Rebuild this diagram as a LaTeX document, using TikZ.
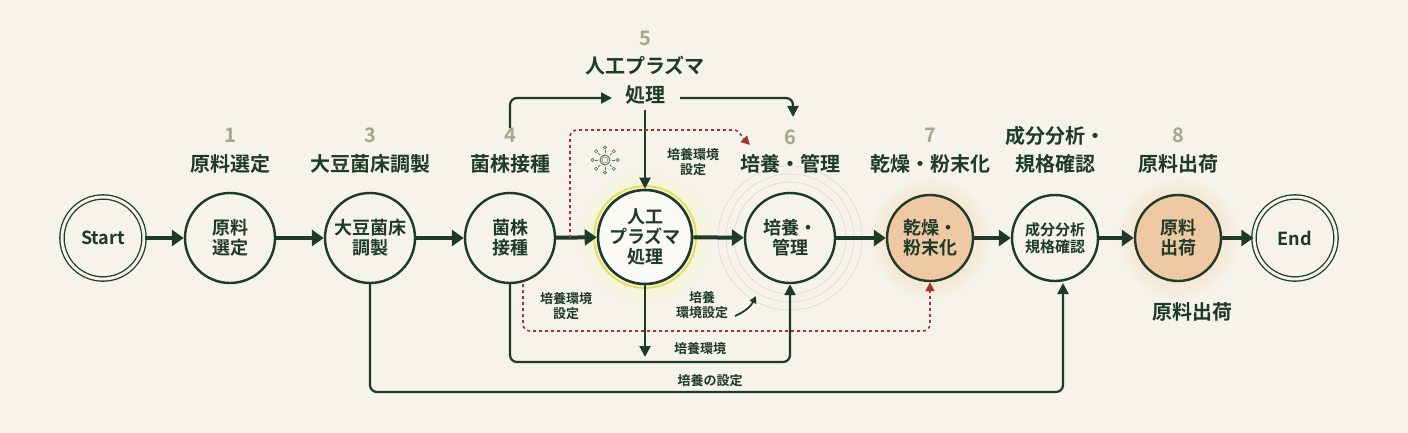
\documentclass[tikz,border=0pt]{standalone}
\usepackage{fontspec}
\setmainfont{Noto Sans CJK JP}[BoldFont={* Bold}]
\usetikzlibrary{arrows.meta,shadings,calc}
\definecolor{bg}{HTML}{F5F3EA}
\definecolor{dg}{HTML}{1E3A29}
\definecolor{numc}{HTML}{A5A78E}
\definecolor{rd}{HTML}{A33434}
\definecolor{org}{HTML}{EFC9A4}
\begin{document}
\begin{tikzpicture}[x=1pt,y=-1pt,
  st/.style={circle,draw=dg,line width=2.4pt,fill=bg,minimum size=90pt,inner sep=0pt,align=center,font=\bfseries\fontsize{18}{20}\selectfont,text=dg},
  term/.style={st,double=bg,double distance=3pt,line width=1.3pt,minimum size=82pt},
  ttl/.style={font=\bfseries\fontsize{20}{23}\selectfont,text=dg,align=center},
  num/.style={font=\bfseries\fontsize{20}{23}\selectfont,text=numc},
  lab/.style={font=\bfseries\fontsize{13}{15}\selectfont,text=dg,align=center},
  flow/.style={draw=dg,line width=4pt,-{Triangle[length=12pt,width=16pt]}},
  ln/.style={draw=dg,line width=2.2pt,rounded corners=7pt,-{Triangle[length=11pt,width=11pt]}},
  rl/.style={draw=rd,line width=1.6pt,dashed,rounded corners=7pt,-{Triangle[length=9pt,width=9pt]}}]
\fill[bg] (0,0) rectangle (1408,433);
\useasboundingbox (0,0) rectangle (1408,433);
% glows
\shade[inner color=yellow!35!bg,outer color=bg] (645,237) circle (68);
\shade[inner color=orange!35!bg,outer color=bg] (930,238) circle (62);
\shade[inner color=orange!35!bg,outer color=bg] (1178,238) circle (62);
\foreach \r in {56,64,72} \draw[gray!30,line width=0.6pt] (790,238) circle (\r);
% nodes
\node[term] (s) at (103,238) {Start};
\node[st] (n1) at (230,238) {原料\\選定};
\node[st] (n3) at (370,238) {大豆菌床\\調製};
\node[st] (n4) at (510,238) {菌株\\接種};
\node[st,minimum size=94pt,fill=white!60!bg,line width=2.6pt] (n5) at (645,237) {人工\\プラズマ\\処理};
\draw[yellow!60!olive!60,line width=1.8pt] (645,237) circle (51);
\node[st] (n6) at (790,238) {培養・\\管理};
\node[st,minimum size=86pt,fill=org] (n7) at (930,238) {乾燥・\\粉末化};
\node[st,minimum size=86pt,font=\bfseries\fontsize{15}{17}\selectfont] (n8) at (1055,238) {成分分析\\規格確認};
\node[st,minimum size=86pt,fill=org] (n9) at (1178,238) {原料\\出荷};
\node[term] (e) at (1295,238) {End};
% titles
\node[num] (t1n) at (230,135) {1};
\node[ttl] (t1) at (230,164) {原料選定};
\node[num] (t3n) at (370,135) {3};
\node[ttl] (t3) at (370,164) {大豆菌床調製};
\node[num] (t4n) at (510,135) {4};
\node[ttl] (t4) at (510,164) {菌株接種};
\node[num] (t5n) at (645,38) {5};
\node[ttl] (t5) at (645,66) {人工プラズマ};
\node[ttl] (t5b) at (645,95) {処理};
\node[num] (t6n) at (790,137) {6};
\node[ttl] (t6) at (790,164) {培養・管理};
\node[num] (t7n) at (930,135) {7};
\node[ttl] (t7) at (930,164) {乾燥・粉末化};
\node[ttl] (t8a) at (1055,136) {成分分析・};
\node[ttl] (t8) at (1055,164) {規格確認};
\node[num] (t9n) at (1178,135) {8};
\node[ttl] (t9) at (1178,164) {原料出荷};
\node[ttl] (t9b) at (1192,312) {原料出荷};
% main flow
\draw[flow] (s) -- (n1);
\draw[flow] (n1) -- (n3);
\draw[flow] (n3) -- (n4);
\draw[flow] (n4) -- (n5);
\draw[flow] (n5) -- (n6);
\draw[flow] (n6) -- (n7);
\draw[flow] (n7) -- (n8);
\draw[flow] (n8) -- (n9);
\draw[flow] (n9) -- (e);
% top loop
\coordinate (a1) at (510,128);
\coordinate (a2) at (612,98);
\draw[ln] (a1) -- (510,98) -- (a2);
\coordinate (a3) at (680,98);
\coordinate (a4) at (793,117);
\draw[ln] (a3) -- (793,98) -- (a4);
\coordinate (a5) at (645,110);
\draw[ln] (a5) -- (n5.north);
% red dashed top
\coordinate (r1) at (570,238);
\coordinate (r2) at (750,145);
\draw[rl] (r1) -- (570,130) -- (728,130) to[out=0,in=135] (r2);
% red dashed bottom
\coordinate (r3) at (523,284);
\draw[rl] (r3) -- (523,331) -- (930,331) -- (n7.south);
% down from 5
\coordinate (d1) at (645,357);
\draw[ln] (n5.south) -- (d1);
% from 4 to 6
\draw[ln] (n4.south) -- (510,362) -- (790,362) -- (n6.south);
% from 3 to 8
\coordinate (b8) at (1063,283);
\draw[ln] (n3.south) -- (370,392) -- (1063,392) -- (b8);
% small curved arrow
\coordinate (c1) at (735,316);
\coordinate (c2) at (756,296);
\draw[draw=dg,line width=1.8pt,-{Triangle[length=7pt,width=7pt]}] (c1) to[bend right=20] (c2);
% labels
\node[lab] (l1) at (693,162) {培養環境\\設定};
\node[lab] (l2) at (566,306) {培養環境\\設定};
\node[lab] (l3) at (702,305) {培養\\環境設定};
\node[lab] (l4) at (700,349) {培養環境};
\node[lab] (l5) at (710,381) {培養の設定};
% sun icon
\coordinate (sun) at (605,160);
\draw[dg!70,line width=1pt] (sun) circle (5);
\draw[dg!50,line width=0.8pt] (sun) circle (3);
\foreach \a in {0,45,...,315}{
  \draw[dg!70,line width=0.7pt] ($(sun)+(\a:7)$) -- ($(sun)+(\a:10)$);
  \draw[dg!70,line width=0.6pt] ($(sun)+(\a:12.5)$) circle (1.6);}
\end{tikzpicture}
\end{document}
